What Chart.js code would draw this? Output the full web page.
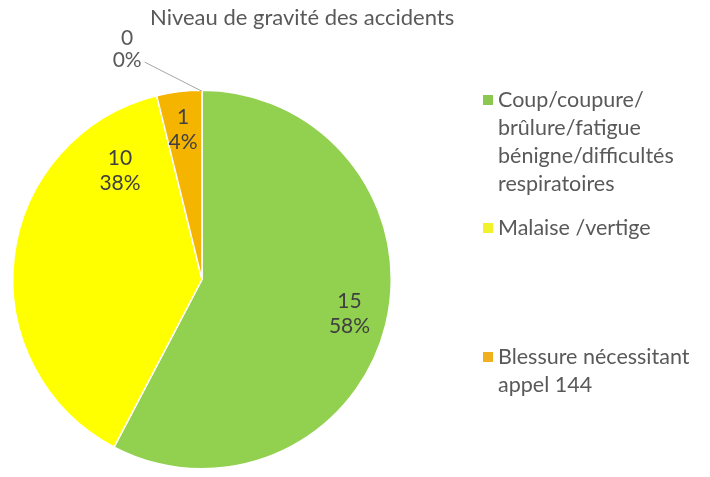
<!DOCTYPE html>
<html>
<head>
<meta charset="utf-8">
<script src="https://cdn.jsdelivr.net/npm/chart.js@4/dist/chart.umd.min.js"></script>
<style>
html,body{margin:0;padding:0;background:#fff;}
#wrap{width:710px;height:477px;position:relative;}
</style>
</head>
<body>
<div id="wrap"><canvas id="c" width="710" height="477"></canvas></div>
<script>
const chartTitle = "Niveau de gravité des accidents";
const categories = [
  ["Coup/coupure/", "brûlure/fatigue", "bénigne/difficultés", "respiratoires"],
  ["Malaise /vertige"],
  ["Blessure nécessitant", "appel 144"],
  [""]
];
const values = [15, 10, 1, 0];
const percentLabels = ["58%", "38%", "4%", "0%"];
const colors = ["#92D050", "#FFFF00", "#F5B400", "#5B9BD5"];
const legendColors = ["#8CC850", "#F2F22A", "#F0B020"];

// label placement (angle from top in degrees clockwise, fraction of radius)
const labelPlace = [[103, 0.80], [323, 0.72], [352.8, 0.80], [342, 1.28]];
const FONT = "Lato, 'Open Sans', sans-serif";

const textPlugin = {
  id: 'textPlugin',
  afterDraw(chart) {
    const ctx = chart.ctx;
    const meta = chart.getDatasetMeta(0);
    const arc0 = meta.data[0];
    const cx = arc0.x, cy = arc0.y, r = arc0.outerRadius;
    ctx.save();
    // title
    ctx.fillStyle = "#595959";
    ctx.font = "22px " + FONT;
    ctx.textAlign = "left";
    ctx.textBaseline = "middle";
    ctx.fillText(chartTitle, 150, 18);
    // data labels
    ctx.font = "21px " + FONT;
    ctx.textAlign = "center";
    ctx.fillStyle = "#404040";
    values.forEach((v, i) => {
      const a = labelPlace[i][0] * Math.PI / 180;
      const d = labelPlace[i][1] * r;
      const x = cx + Math.sin(a) * d;
      const y = cy - Math.cos(a) * d;
      const gap = v === 0 ? 11 : 12.5;
      ctx.fillStyle = v === 0 ? "#595959" : "#404040";
      ctx.fillText(String(v), x, y - gap);
      ctx.fillText(percentLabels[i], x, y + gap);
      if (v === 0) {
        const arc = meta.data[i];
        const w = ctx.measureText(percentLabels[i]).width;
        ctx.strokeStyle = "#A6A6A6";
        ctx.lineWidth = 1;
        ctx.beginPath();
        ctx.moveTo(x + w / 2 + 3, y + gap + 2);
        ctx.lineTo(cx + Math.cos(arc.startAngle) * r, cy + Math.sin(arc.startAngle) * r + 1);
        ctx.stroke();
      }
    });
    // legend
    ctx.textAlign = "left";
    ctx.font = "21.5px " + FONT;
    const legendY = [100, 228, 357];
    categories.forEach((lines, i) => {
      if (values[i] === 0) return;
      const y0 = legendY[i];
      ctx.fillStyle = legendColors[i];
      ctx.fillRect(483, y0 - 5, 10, 10);
      ctx.fillStyle = "#595959";
      lines.forEach((t, k) => ctx.fillText(t, 498, y0 + k * 28));
    });
    ctx.restore();
  }
};

new Chart(document.getElementById('c'), {
  type: 'pie',
  data: {
    labels: categories.map(l => l.join(' ')),
    datasets: [{
      data: values,
      backgroundColor: colors,
      borderColor: "#FFFFFF",
      borderWidth: 1.5
    }]
  },
  options: {
    responsive: false,
    animation: false,
    events: [],
    layout: { padding: { left: 12, top: 89, right: 318, bottom: 7 } },
    plugins: { legend: { display: false }, tooltip: { enabled: false }, title: { display: false } }
  },
  plugins: [textPlugin]
});
</script>
</body>
</html>
